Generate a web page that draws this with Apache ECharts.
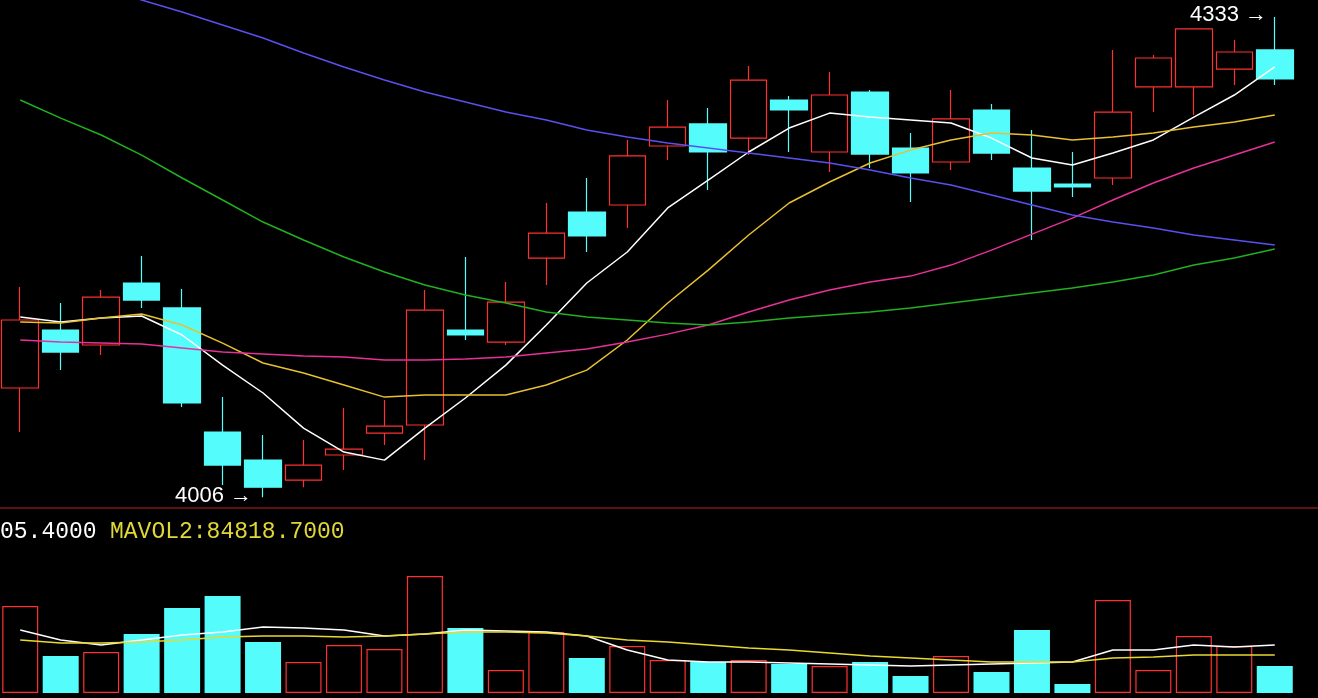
<!DOCTYPE html>
<html>
<head>
  <meta charset="utf-8">
  <script src="https://cdn.jsdelivr.net/npm/echarts@6/dist/echarts.min.js"></script>
  <style>
    html, body { margin: 0; padding: 0; background: #000; }
    #main { width: 1318px; height: 698px; }
  </style>
</head>
<body>
  <div id="main"></div>
  <script>
    // K线 [开, 收, 低, 高]
    var candles = [
      [4080.4, 4126.7, 4050.4, 4149.1], [4119.9, 4104.9, 4092.6, 4138.3],
      [4109.7, 4142.3, 4102.8, 4147.1], [4151.9, 4140.3, 4134.9, 4170.3],
      [4134.9, 4070.2, 4067.4, 4147.8], [4050.4, 4027.9, 4014.3, 4074.2],
      [4031.3, 4012.9, 4006.1, 4048.4], [4017.7, 4027.9, 4012.9, 4045.0],
      [4034.8, 4038.8, 4024.5, 4066.8], [4049.7, 4054.5, 4041.6, 4072.2],
      [4055.2, 4133.5, 4031.3, 4147.1], [4119.9, 4116.5, 4113.1, 4169.6],
      [4111.7, 4138.9, 4109.7, 4152.6], [4168.9, 4185.9, 4150.5, 4206.4],
      [4200.2, 4183.9, 4173.0, 4223.4], [4205.0, 4238.4, 4189.3, 4249.3],
      [4245.2, 4258.1, 4235.6, 4276.5], [4260.2, 4241.1, 4215.2, 4271.1],
      [4250.6, 4290.1, 4239.0, 4299.7], [4276.5, 4269.7, 4241.1, 4279.2],
      [4241.1, 4279.9, 4227.5, 4295.6], [4281.9, 4239.7, 4230.2, 4283.3],
      [4243.8, 4226.8, 4207.0, 4254.0], [4234.3, 4263.6, 4228.8, 4283.3],
      [4269.7, 4240.4, 4235.6, 4273.8], [4230.2, 4214.5, 4181.2, 4256.1],
      [4219.3, 4217.3, 4210.4, 4241.1], [4223.4, 4268.3, 4218.6, 4310.6],
      [4285.4, 4305.1, 4268.3, 4307.1], [4285.4, 4324.9, 4266.3, 4324.9],
      [4297.6, 4309.2, 4286.7, 4317.4], [4310.6, 4290.8, 4286.7, 4333.0]
    ];
    var ma5 = [4128.7, 4125.3, 4128.0, 4129.4, 4116.5, 4096.0, 4077.0, 4053.1, 4036.8, 4031.3, 4053.1, 4073.6, 4096.0, 4123.3, 4151.9, 4173.0, 4203.0, 4222.0, 4241.1, 4257.4, 4267.6, 4264.9, 4262.9, 4260.8, 4250.6, 4237.0, 4232.2, 4240.4, 4249.3, 4264.9, 4279.9, 4299.0];
    var ma10 = [4125.3, 4124.6, 4128.0, 4130.8, 4123.3, 4111.0, 4097.4, 4090.6, 4082.4, 4074.2, 4075.6, 4075.6, 4075.6, 4082.4, 4092.6, 4113.1, 4138.3, 4160.7, 4184.6, 4206.4, 4220.7, 4233.6, 4242.4, 4249.3, 4254.0, 4252.7, 4249.3, 4251.3, 4254.0, 4258.1, 4261.5, 4266.3];
    var ma20 = [4113.1, 4111.7, 4111.0, 4110.3, 4107.6, 4104.9, 4103.5, 4102.2, 4101.5, 4099.4, 4099.4, 4100.1, 4101.5, 4104.2, 4106.9, 4111.7, 4117.1, 4123.3, 4132.1, 4140.3, 4147.1, 4152.6, 4156.6, 4164.1, 4174.3, 4185.2, 4196.1, 4208.4, 4220.0, 4230.2, 4239.0, 4247.9];
    var ma60 = [4276.5, 4264.2, 4252.7, 4239.0, 4223.4, 4208.4, 4193.4, 4181.2, 4169.6, 4159.4, 4150.5, 4143.7, 4138.3, 4132.1, 4128.7, 4126.7, 4124.6, 4123.3, 4125.3, 4128.0, 4130.1, 4132.1, 4134.9, 4138.3, 4141.7, 4145.1, 4148.5, 4152.6, 4157.3, 4164.1, 4168.9, 4175.0];
    var ma120 = [4373.2, 4363.7, 4354.1, 4344.6, 4336.4, 4327.6, 4318.7, 4308.5, 4299.0, 4290.1, 4281.9, 4275.1, 4268.3, 4262.9, 4256.1, 4251.3, 4247.2, 4243.8, 4240.4, 4237.0, 4233.6, 4228.8, 4223.4, 4218.6, 4211.8, 4205.0, 4198.2, 4193.4, 4189.3, 4184.6, 4181.2, 4177.8];
    // 成交量, 1=阳 0=阴
    var volumes = [194000, 82500, 91400, 131600, 189600, 216300, 113700, 69100, 107000, 98100, 260900, 145000, 51300, 136000, 78000, 104800, 73600, 69100, 73600, 64700, 60200, 69100, 37900, 82500, 46800, 140500, 20100, 207400, 51300, 127100, 104800, 60200];
    var volUp = [1, 0, 1, 0, 0, 0, 0, 1, 1, 1, 1, 0, 1, 1, 0, 1, 1, 0, 1, 0, 1, 0, 0, 1, 0, 0, 0, 1, 1, 1, 1, 0];
    var mavol1 = [140500, 118200, 107000, 118200, 129300, 136000, 147200, 145000, 140500, 127100, 131600, 140500, 138300, 136000, 127100, 95900, 73600, 69100, 69100, 66900, 64700, 62400, 60200, 62400, 64700, 66900, 69100, 95900, 95900, 107000, 102600, 107000];
    var mavol2 = [118200, 111500, 111500, 113700, 118200, 124900, 127100, 127100, 124900, 127100, 131600, 136000, 136000, 133800, 127100, 118200, 113700, 107000, 100400, 95900, 89200, 82500, 78000, 73600, 69100, 69100, 69100, 78000, 80300, 84700, 84700, 84700];
    var days = candles.map(function (d, i) { return 'D' + (i + 1); });

    var RED = '#ff3030', CYAN = '#54fcfc';
    var chart = echarts.init(document.getElementById('main'));

    function line(name, data, color, xi, yi) {
      return {
        name: name, type: 'line', data: data, xAxisIndex: xi, yAxisIndex: yi,
        symbol: 'none', smooth: false, clip: true,
        lineStyle: { color: color, width: 1.5 }, z: 5
      };
    }

    chart.setOption({
      backgroundColor: '#000',
      animation: false,
      grid: [
        { left: -4, width: 1299, top: 0, height: 508 },
        { left: -4, width: 1299, top: 520, height: 173 }
      ],
      xAxis: [
        { type: 'category', data: days, gridIndex: 0, show: false, boundaryGap: true },
        { type: 'category', data: days, gridIndex: 1, show: false, boundaryGap: true }
      ],
      yAxis: [
        { type: 'value', gridIndex: 0, min: 3998.7, max: 4344.6, show: false, splitLine: { show: false } },
        { type: 'value', gridIndex: 1, min: 0, max: 385800, show: false, splitLine: { show: false } }
      ],
      series: [
        {
          type: 'candlestick', data: candles, barWidth: 37,
          itemStyle: { color: '#000', borderColor: RED, color0: CYAN, borderColor0: CYAN, borderWidth: 1.2 }
        },
        line('MA5', ma5, '#ffffff', 0, 0),
        line('MA10', ma10, '#e8c030', 0, 0),
        line('MA20', ma20, '#e8309a', 0, 0),
        line('MA60', ma60, '#20b020', 0, 0),
        line('MA120', ma120, '#5a50f0', 0, 0),
        {
          type: 'bar', xAxisIndex: 1, yAxisIndex: 1, barWidth: 36,
          data: volumes.map(function (v, i) {
            return {
              value: v,
              itemStyle: volUp[i]
                ? { color: '#000', borderColor: RED, borderWidth: 1.2 }
                : { color: CYAN }
            };
          })
        },
        line('MAVOL1', mavol1, '#ffffff', 1, 1),
        line('MAVOL2', mavol2, '#e8d830', 1, 1)
      ],
      graphic: [
        { type: 'line', shape: { x1: 0, y1: 508, x2: 1318, y2: 508 }, style: { stroke: '#801818', lineWidth: 1.5 } },
        { type: 'text', left: 0, top: 520, style: { text: '05.4000', fill: '#ffffff', font: '23px "Liberation Mono"' } },
        { type: 'text', left: 110, top: 520, style: { text: 'MAVOL2:84818.7000', fill: '#e0d838', font: '23px "Liberation Mono"' } },
        { type: 'text', left: 1190, top: 4, style: { text: '4333 →', fill: '#ffffff', font: '22px "Liberation Sans"' } },
        { type: 'text', left: 175, top: 485, style: { text: '4006 →', fill: '#ffffff', font: '22px "Liberation Sans"' } }
      ]
    });
  </script>
</body>
</html>
